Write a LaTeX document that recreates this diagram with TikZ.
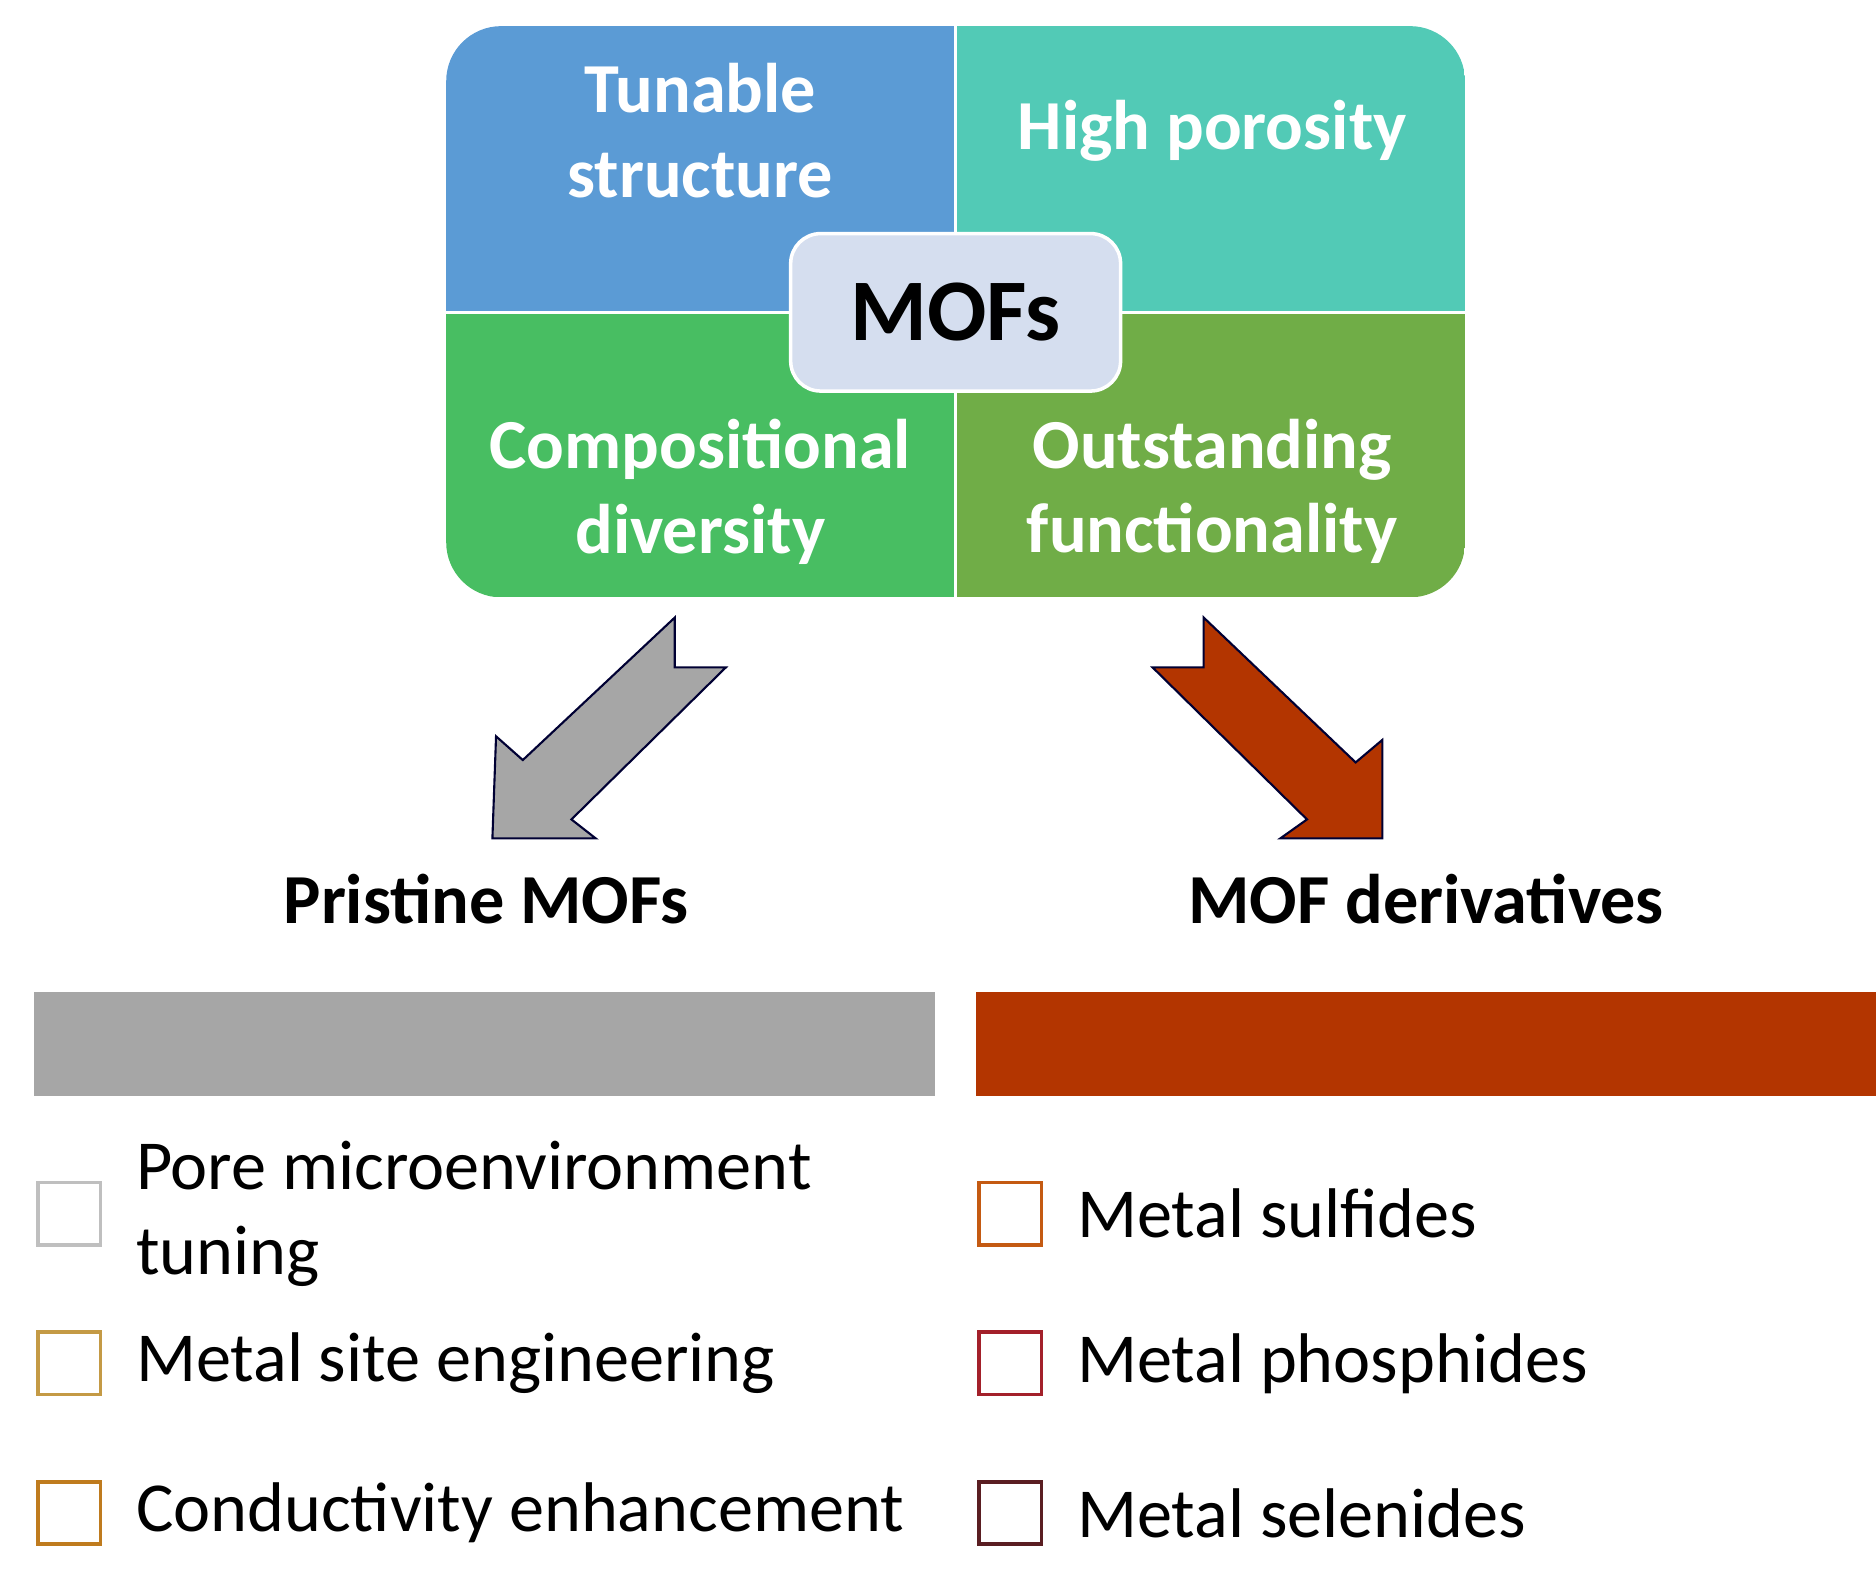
\documentclass[tikz,border=0pt]{standalone}
\usepackage{fontspec}
\setmainfont{Carlito}
\usetikzlibrary{positioning}

\definecolor{cTune}{HTML}{5B9BD5}
\definecolor{cPore}{HTML}{52CAB6}
\definecolor{cComp}{HTML}{48BE62}
\definecolor{cFunc}{HTML}{70AD47}
\definecolor{cMof}{HTML}{D5DEEF}
\definecolor{cGray}{HTML}{A6A6A6}
\definecolor{cRed}{HTML}{B33500}
\definecolor{cBoxA}{HTML}{BFBFBF}
\definecolor{cBoxB}{HTML}{C49A45}
\definecolor{cBoxC}{HTML}{BF7B1E}
\definecolor{cBoxD}{HTML}{C45A12}
\definecolor{cBoxE}{HTML}{A3202A}
\definecolor{cBoxF}{HTML}{5A1E22}

\tikzset{
  quad/.style={font=\fontsize{40}{48}\selectfont\bfseries, text=white, align=center},
  head/.style={font=\fontsize{40}{48}\selectfont\bfseries},
  item/.style={font=\fontsize{40}{48}\selectfont, anchor=west, align=left},
  tick/.style={draw=#1, line width=2pt, minimum size=1.25cm, inner sep=0pt},
}

\begin{document}
\begin{tikzpicture}[x=0.02432cm, y=-0.02376cm]

\path [use as bounding box] (0,0) rectangle (1543,1330);

% QUADRANTS
\begin{scope}
\clip [rounded corners=1.1cm] (367,22) rectangle (1205,503);
\fill [cTune] (367,22) rectangle (786,263);
\fill [cPore] (786,22) rectangle (1205,263);
\fill [cComp] (367,263) rectangle (786,503);
\fill [cFunc] (786,263) rectangle (1205,503);
\draw [white, line width=1.5pt] (786,22) -- (786,503) (367,263) -- (1205,263);
\end{scope}
\node [quad] (tune) at (576,110) {Tunable\\structure};
\node [quad] (pore) at (997,110) {High porosity};
\node [quad] (comp) at (576,414) {Compositional\\diversity};
\node [quad] (func) at (997,414) {Outstanding\\functionality};
\node [draw=white, line width=2pt, fill=cMof, rounded corners=0.6cm, minimum width=6.6cm, minimum height=3.15cm,
  font=\fontsize{50}{60}\selectfont\bfseries] (mofs) at (786,263) {MOFs};

% ARROWS
\filldraw [fill=cGray, draw=black!80!blue, line width=1.2pt]
  (555,520) -- (555,562) -- (597,562) -- (470,690) -- (490,706) -- (405,706)
  -- (408,620) -- (430,640) -- cycle;
\filldraw [fill=cRed, draw=black!80!blue, line width=1.2pt]
  (990,520) -- (990,562) -- (948,562) -- (1075,690) -- (1053,706) -- (1137,706)
  -- (1137,623) -- (1115,642) -- cycle;

% BRANCHES
\node [head] (pristine) at (400,757) {Pristine MOFs};
\node [head] (deriv) at (1173,757) {MOF derivatives};
\fill [cGray] (28,835) rectangle (769,923);
\fill [cRed] (803,835) rectangle (1543,923);

% ITEMS
\node [tick=cBoxA] (b1) at (57,1022) {};
\node [tick=cBoxB] (b2) at (57,1148) {};
\node [tick=cBoxC] (b3) at (57,1274) {};
\node [tick=cBoxD] (b4) at (831,1022) {};
\node [tick=cBoxE] (b5) at (831,1148) {};
\node [tick=cBoxF] (b6) at (831,1274) {};
\node [item, right=0.55cm of b1] {Pore microenvironment\\tuning};
\node [item, right=0.55cm of b2] {Metal site engineering};
\node [item, right=0.55cm of b3] {Conductivity enhancement};
\node [item, right=0.55cm of b4] {Metal sulfides};
\node [item, right=0.55cm of b5] {Metal phosphides};
\node [item, right=0.55cm of b6] {Metal selenides};

\end{tikzpicture}
\end{document}
